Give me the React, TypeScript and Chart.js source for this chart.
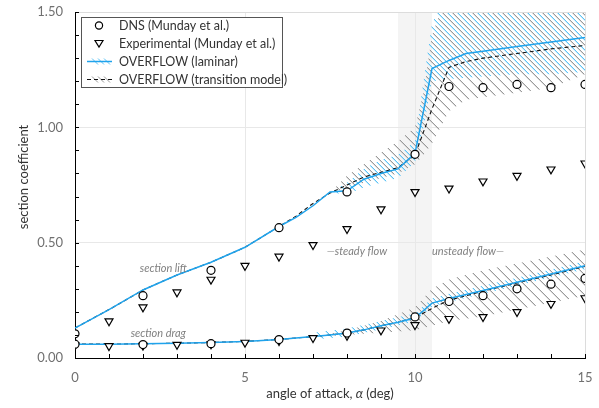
import React, { useEffect, useRef } from 'react';
import { Chart, registerables } from 'chart.js';
Chart.register(...registerables);

// ---- data (angle of attack in deg, section coefficients) ----
const dnsAlpha = [0, 2, 4, 6, 8, 10, 11, 12, 13, 14, 15];
const dnsLift = [0.105, 0.27, 0.38, 0.565, 0.72, 0.883, 1.177, 1.172, 1.186, 1.172, 1.186];
const dnsDrag = [0.06, 0.058, 0.062, 0.08, 0.108, 0.178, 0.245, 0.27, 0.3, 0.32, 0.345];

const expLiftAlpha = [1, 2, 3, 4, 5, 6, 7, 8, 9, 10, 11, 12, 13, 14, 15];
const expLift = [0.16, 0.22, 0.285, 0.34, 0.4, 0.44, 0.49, 0.56, 0.645, 0.72, 0.735, 0.766, 0.79, 0.818, 0.844];
const expDragAlpha = [0, 1, 2, 3, 4, 5, 6, 7, 8, 9, 10, 11, 12, 13, 14, 15];
const expDrag = [0.055, 0.052, 0.054, 0.058, 0.06, 0.067, 0.074, 0.087, 0.097, 0.12, 0.143, 0.17, 0.178, 0.2, 0.235, 0.26];

const lamLiftAlpha = [0, 1, 2, 3, 4, 5, 6, 6.5, 7, 7.5, 8, 8.5, 9, 9.5, 10, 10.5, 11, 11.5, 12, 13, 14, 15];
const lamLift = [0.13, 0.21, 0.295, 0.36, 0.415, 0.48, 0.57, 0.61, 0.66, 0.72, 0.725, 0.775, 0.8, 0.82, 0.887, 1.255, 1.29, 1.32, 1.33, 1.35, 1.37, 1.39];
const trLiftAlpha = [0, 1, 2, 3, 4, 5, 6, 6.5, 7, 7.5, 8, 8.5, 9, 9.5, 10, 10.5, 11, 11.5, 12, 13, 14, 15];
const trLift = [0.13, 0.21, 0.295, 0.36, 0.415, 0.48, 0.57, 0.615, 0.67, 0.715, 0.75, 0.785, 0.805, 0.825, 0.88, 1.08, 1.26, 1.285, 1.3, 1.32, 1.34, 1.355];

const lamDragAlpha = [0, 1, 2, 3, 4, 5, 6, 7, 7.5, 8, 8.5, 9, 9.5, 10, 10.5, 11, 12, 13, 14, 15];
const lamDrag = [0.06, 0.06, 0.062, 0.064, 0.067, 0.072, 0.08, 0.093, 0.1, 0.108, 0.122, 0.14, 0.155, 0.173, 0.238, 0.258, 0.293, 0.328, 0.364, 0.4];
const trDragAlpha = [0, 1, 2, 3, 4, 5, 6, 7, 7.5, 8, 8.5, 9, 9.5, 10, 10.5, 11, 12, 13, 14, 15];
const trDrag = [0.06, 0.06, 0.062, 0.064, 0.067, 0.072, 0.08, 0.093, 0.1, 0.108, 0.122, 0.14, 0.155, 0.175, 0.215, 0.25, 0.29, 0.325, 0.36, 0.397];

// unsteady bands (min / max)
const trLiftBandAlpha = [7.6, 8, 8.5, 9, 9.5, 10, 10.25, 10.5, 11, 11.5, 12, 13, 14, 15];
const trLiftBandLow = [0.72, 0.735, 0.76, 0.78, 0.8, 0.84, 0.88, 0.93, 1.07, 1.12, 1.13, 1.15, 1.17, 1.23];
const trLiftBandHigh = [0.73, 0.79, 0.84, 0.89, 0.94, 1.0, 1.15, 1.4, 1.6, 1.6, 1.6, 1.6, 1.6, 1.6];

const lamLiftBandAlpha = [7.6, 8, 8.5, 9, 9.5, 10, 10.25, 10.5, 11, 12, 13, 14, 15];
const lamLiftBandLow = [0.715, 0.71, 0.74, 0.76, 0.78, 0.85, 1.0, 1.2, 1.21, 1.22, 1.23, 1.23, 1.24];
const lamLiftBandHigh = [0.725, 0.76, 0.82, 0.86, 0.88, 0.94, 1.2, 1.45, 1.6, 1.6, 1.6, 1.6, 1.6];

const trDragBandAlpha = [7.5, 8, 8.5, 9, 9.5, 10, 10.5, 11, 12, 13, 14, 15];
const trDragBandLow = [0.095, 0.1, 0.105, 0.11, 0.115, 0.12, 0.14, 0.16, 0.18, 0.21, 0.24, 0.27];
const trDragBandHigh = [0.105, 0.12, 0.14, 0.16, 0.19, 0.22, 0.3, 0.34, 0.38, 0.41, 0.44, 0.47];

const lamDragBandAlpha = [7, 8, 9, 10, 10.5, 11, 12, 13, 14, 15];
const lamDragBandLow = [0.08, 0.093, 0.125, 0.158, 0.222, 0.243, 0.278, 0.313, 0.349, 0.385];
const lamDragBandHigh = [0.11, 0.128, 0.16, 0.193, 0.258, 0.278, 0.313, 0.348, 0.384, 0.42];

const legendLabels = ['DNS (Munday et al.)', 'Experimental (Munday et al.)', 'OVERFLOW (laminar)', 'OVERFLOW (transition model)'];

const BLUE = '#1fa3ec';
const BLUE_HATCH = '#5cc3f5';
const GRAY_HATCH = '#9a9a9a';
const FONT = 'Lato, "Open Sans", sans-serif';

const pts = (xs: number[], ys: number[]) => xs.map((x, i) => ({ x, y: ys[i] }));

// crisp 1px diagonal ("\") hatch tile
function makePattern(color: string, offset: number) {
  const size = 10;
  const c = document.createElement('canvas');
  c.width = size;
  c.height = size;
  const g = c.getContext('2d')!;
  g.fillStyle = color;
  for (let i = 0; i < size; i++) {
    g.fillRect(i, (i + offset) % size, 1, 1);
  }
  g.globalAlpha = 0.35;
  for (let i = 0; i < size; i++) {
    g.fillRect(i, (i + offset + 1) % size, 1, 1);
  }
  return g.createPattern(c, 'repeat')!;
}

const decor = {
  id: 'decor',
  beforeDraw(chart: any) {
    const { ctx, chartArea: a, scales } = chart;
    const xs = scales.x;
    ctx.save();
    ctx.fillStyle = '#f4f4f4';
    const l = xs.getPixelForValue(9.5);
    const r = xs.getPixelForValue(10.5);
    ctx.fillRect(l, a.top, r - l, a.bottom - a.top);
    ctx.restore();
  },
  afterDraw(chart: any) {
    const { ctx, chartArea: a, scales } = chart;
    const xs = scales.x;
    const ys = scales.y;
    ctx.save();
    // top / right frame
    ctx.strokeStyle = '#dcdcdc';
    ctx.lineWidth = 1;
    ctx.beginPath();
    ctx.moveTo(Math.round(a.left) + 0.5, Math.round(a.top) + 0.5);
    ctx.lineTo(Math.round(a.right) + 0.5, Math.round(a.top) + 0.5);
    ctx.lineTo(Math.round(a.right) + 0.5, Math.round(a.bottom));
    ctx.stroke();
    // inward ticks
    ctx.strokeStyle = '#000';
    ctx.beginPath();
    for (let v = 0; v <= 15; v++) {
      const px = Math.round(xs.getPixelForValue(v)) + 0.5;
      ctx.moveTo(px, a.bottom);
      ctx.lineTo(px, a.bottom - 4);
    }
    for (let i = 0; i <= 15; i++) {
      const py = Math.round(ys.getPixelForValue(i / 10)) + 0.5;
      ctx.moveTo(a.left, py);
      ctx.lineTo(a.left + 4, py);
    }
    ctx.stroke();

    // annotations
    ctx.font = 'italic 11px ' + FONT;
    ctx.fillStyle = '#808080';
    ctx.textBaseline = 'middle';
    ctx.textAlign = 'center';
    ctx.fillText('section lift', xs.getPixelForValue(2.6), ys.getPixelForValue(0.39));
    ctx.fillText('section drag', xs.getPixelForValue(2.45), ys.getPixelForValue(0.108));
    ctx.textAlign = 'right';
    ctx.fillText('\u2014steady flow', xs.getPixelForValue(9.18), ys.getPixelForValue(0.46));
    ctx.textAlign = 'left';
    ctx.fillText('unsteady flow\u2014', xs.getPixelForValue(10.5), ys.getPixelForValue(0.46));

    // axis titles
    ctx.fillStyle = '#333';
    ctx.font = '13px ' + FONT;
    const p1 = 'angle of attack, ';
    const p3 = ' (deg)';
    const w1 = ctx.measureText(p1).width;
    const w3 = ctx.measureText(p3).width;
    ctx.font = 'italic 13px ' + FONT;
    const w2 = ctx.measureText('\u03b1').width;
    const total = w1 + w2 + w3;
    const sx = (a.left + a.right) / 2 - total / 2;
    const ty = 394;
    ctx.textAlign = 'left';
    ctx.font = '13px ' + FONT;
    ctx.fillText(p1, sx, ty);
    ctx.font = 'italic 13px ' + FONT;
    ctx.fillText('\u03b1', sx + w1, ty);
    ctx.font = '13px ' + FONT;
    ctx.fillText(p3, sx + w1 + w2, ty);

    ctx.save();
    ctx.translate(24, 177);
    ctx.rotate(-Math.PI / 2);
    ctx.textAlign = 'center';
    ctx.fillText('section coefficient', 0, 0);
    ctx.restore();

    // legend
    const bx = 81.5, by = 17.5, bw = 201, bh = 70;
    ctx.fillStyle = '#fff';
    ctx.fillRect(bx, by, bw, bh);
    ctx.strokeStyle = '#555';
    ctx.lineWidth = 1;
    ctx.strokeRect(bx, by, bw, bh);
    const rows = [25.5, 43.5, 61.5, 79.5];
    const mx = 99;
    ctx.lineWidth = 1.2;
    ctx.strokeStyle = '#000';
    ctx.beginPath();
    ctx.arc(mx, rows[0], 3.6, 0, Math.PI * 2);
    ctx.stroke();
    ctx.beginPath();
    ctx.moveTo(mx - 4, rows[1] - 3);
    ctx.lineTo(mx + 4, rows[1] - 3);
    ctx.lineTo(mx, rows[1] + 3.5);
    ctx.closePath();
    ctx.stroke();
    const hatch = (y: number, color: string) => {
      ctx.strokeStyle = color;
      ctx.lineWidth = 1;
      ctx.beginPath();
      for (const hx of [95, 101, 107]) {
        ctx.moveTo(hx - 3, y - 3);
        ctx.lineTo(hx + 3, y + 3);
      }
      ctx.stroke();
    };
    hatch(rows[2], BLUE_HATCH);
    ctx.strokeStyle = BLUE;
    ctx.lineWidth = 1.5;
    ctx.beginPath();
    ctx.moveTo(87, rows[2]);
    ctx.lineTo(112, rows[2]);
    ctx.stroke();
    hatch(rows[3], GRAY_HATCH);
    ctx.strokeStyle = '#111';
    ctx.lineWidth = 1.1;
    ctx.setLineDash([4, 3]);
    ctx.beginPath();
    ctx.moveTo(87, rows[3]);
    ctx.lineTo(112, rows[3]);
    ctx.stroke();
    ctx.setLineDash([]);
    ctx.fillStyle = '#333';
    ctx.font = '12.5px ' + FONT;
    ctx.textAlign = 'left';
    ctx.textBaseline = 'middle';
    legendLabels.forEach((t, i) => ctx.fillText(t, 119, rows[i]));
    ctx.restore();
  },
};

export default function App() {
  const ref = useRef<HTMLCanvasElement>(null);
  useEffect(() => {
    const canvas = ref.current!;
    const grayPat = makePattern(GRAY_HATCH, 0);
    const bluePat = makePattern(BLUE_HATCH, 5);
    const band = (xs: number[], lo: number[], hi: number[], pat: CanvasPattern) => [
      { type: 'line', data: pts(xs, lo), borderWidth: 0, pointRadius: 0, fill: false, order: 20, borderColor: 'transparent' },
      { type: 'line', data: pts(xs, hi), borderWidth: 0, pointRadius: 0, fill: '-1', backgroundColor: pat, order: 20, borderColor: 'transparent' },
    ];
    const line = (xs: number[], ys: number[], color: string, dash: number[], w: number) => ({
      type: 'line', data: pts(xs, ys), borderColor: color, borderWidth: w, borderDash: dash, pointRadius: 0, fill: false, tension: 0, order: 5,
    });
    const markers = (xs: number[], ys: number[], style: string, rot: number) => ({
      type: 'scatter', data: pts(xs, ys), pointStyle: style, rotation: rot, pointRadius: style === 'circle' ? 4 : 4.6,
      borderColor: '#000', borderWidth: 1.2, backgroundColor: '#fff', showLine: false, order: 1,
    });
    const chart = new Chart(canvas, {
      type: 'line',
      data: {
        datasets: [
          ...band(trLiftBandAlpha, trLiftBandLow, trLiftBandHigh, grayPat),
          ...band(lamLiftBandAlpha, lamLiftBandLow, lamLiftBandHigh, bluePat),
          ...band(trDragBandAlpha, trDragBandLow, trDragBandHigh, grayPat),
          ...band(lamDragBandAlpha, lamDragBandLow, lamDragBandHigh, bluePat),
          line(lamLiftAlpha, lamLift, BLUE, [], 1.5),
          line(lamDragAlpha, lamDrag, BLUE, [], 1.5),
          line(trLiftAlpha, trLift, '#111', [4, 3], 1.1),
          line(trDragAlpha, trDrag, '#111', [4, 3], 1.1),
          markers(dnsAlpha, dnsLift, 'circle', 0),
          markers(dnsAlpha, dnsDrag, 'circle', 0),
          markers(expLiftAlpha, expLift, 'triangle', 180),
          markers(expDragAlpha, expDrag, 'triangle', 180),
        ] as any,
      },
      options: {
        animation: false,
        responsive: false,
        layout: { padding: { top: 12, right: 14, left: 0, bottom: 0 } },
        plugins: { legend: { display: false }, tooltip: { enabled: false } },
        scales: {
          x: {
            type: 'linear', min: 0, max: 15,
            ticks: { stepSize: 5, color: '#707070', font: { family: FONT, size: 13 }, padding: 12 },
            grid: { color: '#e8e8e8', drawTicks: false },
            border: { color: '#000', width: 1 },
            afterFit: (s: any) => { s.height = 50; s.paddingLeft = 0; s.paddingRight = 0; },
          },
          y: {
            type: 'linear', min: 0, max: 1.5,
            ticks: { stepSize: 0.5, color: '#707070', font: { family: FONT, size: 13 }, padding: 12, callback: (v: any) => Number(v).toFixed(2) },
            grid: { color: '#e8e8e8', drawTicks: false },
            border: { color: '#000', width: 1 },
            afterFit: (s: any) => { s.width = 75; s.paddingTop = 0; s.paddingBottom = 0; },
          },
        },
      } as any,
      plugins: [decor],
    });
    return () => chart.destroy();
  }, []);
  return (
    <div style={{ position: 'fixed', left: 0, top: 0, width: 599, height: 408, background: '#fff' }}>
      <canvas ref={ref} width={599} height={408} style={{ display: 'block', width: 599, height: 408 }} />
    </div>
  );
}
